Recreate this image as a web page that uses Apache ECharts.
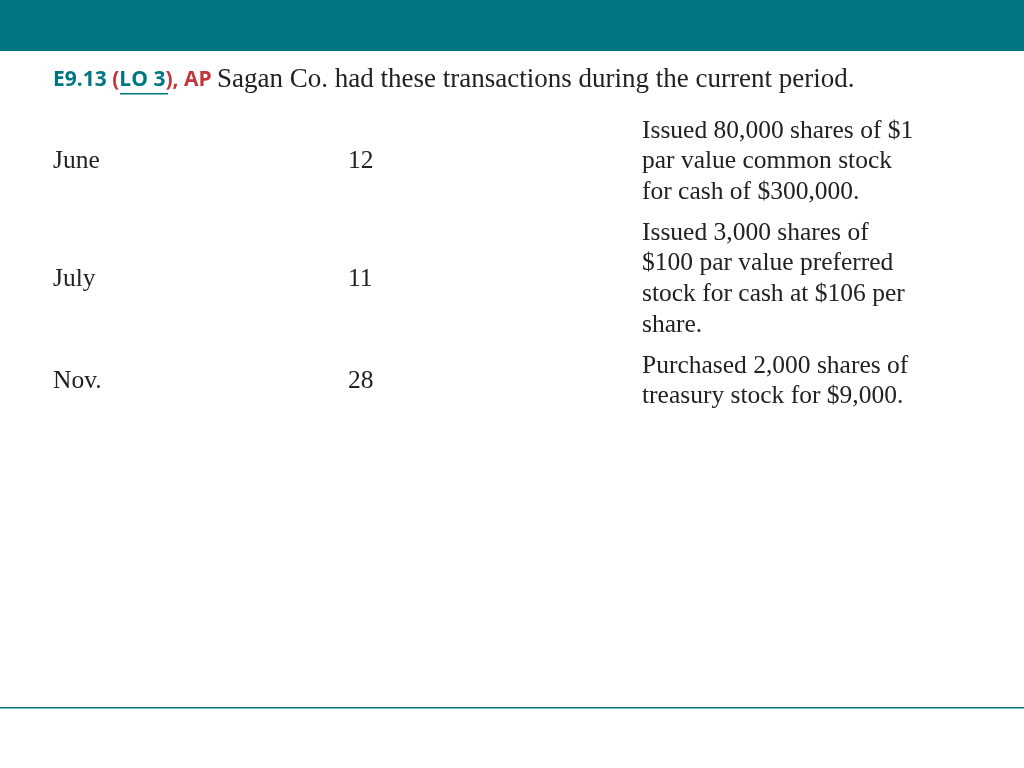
<!DOCTYPE html>
<html>
<head>
<meta charset="utf-8">
<script src="https://cdn.jsdelivr.net/npm/echarts@6/dist/echarts.min.js"></script>
<style>
  html, body { margin: 0; padding: 0; background: #fff; }
  #slide { width: 1024px; height: 768px; }
</style>
</head>
<body>
<div id="slide"></div>
<script>
// slide content
let months = ['June', 'July', 'Nov.'];
let days = ['12', '11', '28'];
let details = [
    ['Issued 80,000 shares of $1', 'par value common stock', 'for cash of $300,000.'],
    ['Issued 3,000 shares of', '$100 par value preferred', 'stock for cash at $106 per', 'share.'],
    ['Purchased 2,000 shares of', 'treasury stock for $9,000.']
];

let chart = echarts.init(document.getElementById('slide'));

let teal = '#007683';
let serif = '"Liberation Serif", "DejaVu Serif", serif';
let rowTop = [131, 233, 366]; // first line of each description
let lineH = 30.7;

let elements = [
    { type: 'rect', shape: { x: 0, y: 0, width: 1024, height: 51 }, style: { fill: teal } },
    { type: 'rect', shape: { x: 0, y: 707, width: 1024, height: 1.5 }, style: { fill: teal } },
    {
        type: 'text', x: 53, y: 80,
        style: {
            text: '{code|E9.13 }{red|(}{lo|LO 3}{red|), AP }{body|Sagan Co. had these transactions during the current period.}',
            verticalAlign: 'middle',
            rich: {
                code: { fontFamily: '"Open Sans", sans-serif', fontWeight: 'bold', fontSize: 21, fill: teal },
                red: { fontFamily: '"Open Sans", sans-serif', fontWeight: 'bold', fontSize: 21, fill: '#c0373a' },
                lo: { fontFamily: '"Open Sans", sans-serif', fontWeight: 'bold', fontSize: 21, fill: teal },
                body: { fontFamily: serif, fontSize: 27, fill: '#222' }
            }
        }
    },
    // underline under "LO 3"
    { type: 'rect', shape: { x: 120, y: 93, width: 48, height: 1.5 }, style: { fill: teal } }
];

months.forEach(function (m, i) {
    let lines = details[i];
    let mid = rowTop[i] + (lines.length - 1) * lineH / 2;
    elements.push({ type: 'text', x: 53, y: mid, style: { text: m, fontFamily: serif, fontSize: 25.5, fill: '#222', verticalAlign: 'middle' } });
    elements.push({ type: 'text', x: 348, y: mid, style: { text: days[i], fontFamily: serif, fontSize: 25.5, fill: '#222', verticalAlign: 'middle' } });
    lines.forEach(function (t, j) {
        elements.push({ type: 'text', x: 642, y: rowTop[i] + j * lineH, style: { text: t, fontFamily: serif, fontSize: 25.5, fill: '#222', verticalAlign: 'middle' } });
    });
});

chart.setOption({ animation: false, graphic: { elements: elements } });
</script>
</body>
</html>
